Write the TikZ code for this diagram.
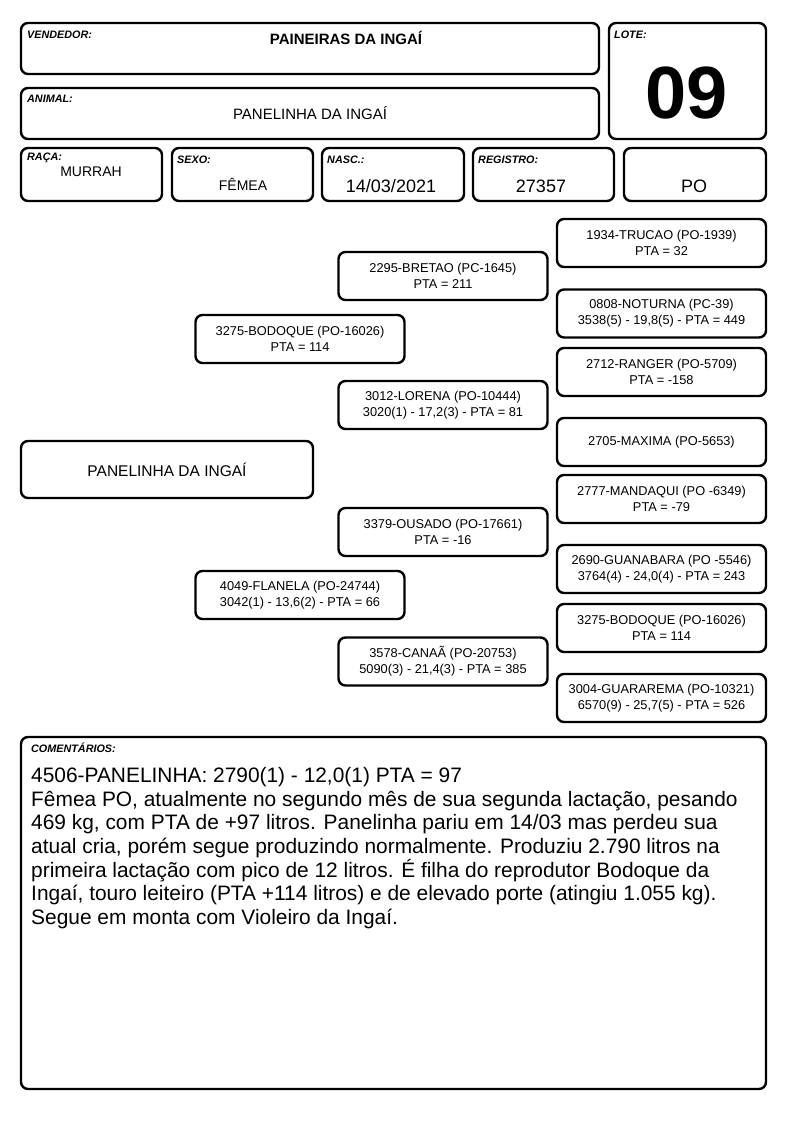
\documentclass[tikz,border=0pt]{standalone}
\usepackage{fontspec}
\setmainfont{Liberation Sans}
\begin{document}
\begin{tikzpicture}[x=1pt,y=-1pt,
  caixa/.style={draw,line width=2.4pt,rounded corners=7pt},
  rotulo/.style={anchor=west,inner sep=0pt,font=\fontsize{10.8}{12}\selectfont\bfseries\itshape},
  valor/.style={inner sep=0pt,font=\fontsize{15}{18}\selectfont},
  ped/.style={caixa,minimum width=209pt,minimum height=48pt,align=center,inner sep=0pt,font=\fontsize{12.8}{16}\selectfont}]
 \useasboundingbox (0,0) rectangle (794,1123);

 % cabecalho
 \draw [caixa] (21,23) rectangle (599,74);
 \draw [caixa] (609,23) rectangle (766,139);
 \draw [caixa] (21,88) rectangle (599,139);
 \draw [caixa] (21,148) rectangle (162,201);
 \draw [caixa] (172,148) rectangle (313,201);
 \draw [caixa] (322,148) rectangle (464,201);
 \draw [caixa] (473,148) rectangle (614,201);
 \draw [caixa] (624,148) rectangle (766,201);

 \draw (27,35) node[rotulo] (lvend) {VENDEDOR:};
 \draw (346,38) node[valor,font=\fontsize{15}{18}\selectfont\bfseries] (vend) {PAINEIRAS DA INGAÍ};
 \draw (614,35) node[rotulo] (llote) {LOTE:};
 \draw (687,93) node[inner sep=0pt,font=\fontsize{74}{80}\selectfont\bfseries] (lote) {09};
 \draw (27,99) node[rotulo] (lanimal) {ANIMAL:};
 \draw (310,113) node[valor] (animal) {PANELINHA DA INGAÍ};
 \draw (27,158) node[rotulo] (lraca) {RAÇA:};
 \draw (91,172) node[valor,font=\fontsize{14}{17}\selectfont] (raca) {MURRAH};
 \draw (177,160) node[rotulo] (lsexo) {SEXO:};
 \draw (243,184) node[valor,font=\fontsize{14}{17}\selectfont] (sexo) {FÊMEA};
 \draw (327,160) node[rotulo] (lnasc) {NASC.:};
 \draw (391,186) node[valor,font=\fontsize{18}{21}\selectfont] (nasc) {14/03/2021};
 \draw (478,160) node[rotulo] (lreg) {REGISTRO:};
 \draw (541,186) node[valor,font=\fontsize{18}{21}\selectfont] (reg) {27357};
 \draw (694,186) node[valor,font=\fontsize{18}{21}\selectfont] (cat) {PO};

 % genealogia
 \node [caixa,minimum width=292pt,minimum height=57pt,font=\fontsize{15.5}{18}\selectfont] (panelinha) at (167,469.5) {PANELINHA DA INGAÍ};

 \node [ped] (bodoque) at (300,339) {3275-BODOQUE (PO-16026)\\PTA = 114};
 \node [ped] (flanela) at (300,595) {4049-FLANELA (PO-24744)\\3042(1) - 13,6(2) - PTA = 66};

 \node [ped] (bretao) at (443,276) {2295-BRETAO (PC-1645)\\PTA = 211};
 \node [ped] (lorena) at (443,405) {3012-LORENA (PO-10444)\\3020(1) - 17,2(3) - PTA = 81};
 \node [ped] (ousado) at (443,532) {3379-OUSADO (PO-17661)\\PTA = -16};
 \node [ped] (canaa) at (443,661.5) {3578-CANAÃ (PO-20753)\\5090(3) - 21,4(3) - PTA = 385};

 \node [ped] (trucao) at (661.5,243) {1934-TRUCAO (PO-1939)\\PTA = 32};
 \node [ped] (noturna) at (661.5,313.5) {0808-NOTURNA (PC-39)\\3538(5) - 19,8(5) - PTA = 449};
 \node [ped] (ranger) at (661.5,372) {2712-RANGER (PO-5709)\\PTA = -158};
 \node [ped] (maxima) at (661.5,442) {2705-MAXIMA (PO-5653)};
 \node [ped] (mandaqui) at (661.5,499) {2777-MANDAQUI (PO -6349)\\PTA = -79};
 \node [ped] (guanabara) at (661.5,569) {2690-GUANABARA (PO -5546)\\3764(4) - 24,0(4) - PTA = 243};
 \node [ped] (bodoque2) at (661.5,628) {3275-BODOQUE (PO-16026)\\PTA = 114};
 \node [ped] (guararema) at (661.5,698) {3004-GUARAREMA (PO-10321)\\6570(9) - 25,7(5) - PTA = 526};

 % comentarios
 \draw [caixa] (21,737) rectangle (766,1089);
 \draw (31,748) node[rotulo] (lcoment) {COMENTÁRIOS:};
 \node [anchor=north west,inner sep=0pt,align=left,font=\fontsize{20.9}{23.7}\selectfont] (coment) at (31,767)
 {4506-PANELINHA: 2790(1) - 12,0(1) PTA = 97\\
 Fêmea PO, atualmente no segundo mês de sua segunda lactação, pesando\\
 469 kg, com PTA de +97 litros. Panelinha pariu em 14/03 mas perdeu sua\\
 atual cria, porém segue produzindo normalmente. Produziu 2.790 litros na\\
 primeira lactação com pico de 12 litros. É filha do reprodutor Bodoque da\\
 Ingaí, touro leiteiro (PTA +114 litros) e de elevado porte (atingiu 1.055 kg).\\
 Segue em monta com Violeiro da Ingaí.};

\end{tikzpicture}
\end{document}
